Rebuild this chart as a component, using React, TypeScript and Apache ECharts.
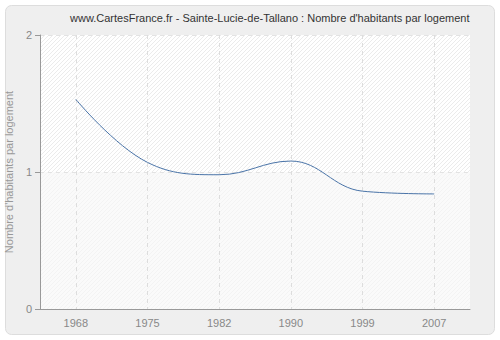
import React, { useEffect, useRef } from "react";
import * as echarts from "echarts";

const years = ["1968", "1975", "1982", "1990", "1999", "2007"];
const values = [1.53, 1.07, 0.98, 1.08, 0.86, 0.84];
const titleText = "www.CartesFrance.fr - Sainte-Lucie-de-Tallano : Nombre d'habitants par logement";
const yAxisName = "Nombre d'habitants par logement";

function hatchImage(bg: string, fg: string): string {
  const c = document.createElement("canvas");
  c.width = 4;
  c.height = 4;
  const ctx = c.getContext("2d")!;
  ctx.fillStyle = bg;
  ctx.fillRect(0, 0, 4, 4);
  ctx.fillStyle = fg;
  for (let i = 0; i < 4; i++) ctx.fillRect(3 - i, i, 1, 1);
  return c.toDataURL();
}

export default function App() {
  const ref = useRef<HTMLDivElement>(null);
  useEffect(() => {
    const chart = echarts.init(ref.current!, null, { renderer: "svg" });
    const font = "'Liberation Sans', Arial, sans-serif";
    const topImg = new Image();
    topImg.src = hatchImage("#ffffff", "#ebebeb");
    const botImg = new Image();
    botImg.src = hatchImage("#fafafa", "#f3f3f3");
    chart.setOption({
      animation: false,
      backgroundColor: "#ffffff",
      graphic: [
        {
          type: "rect",
          z: -10,
          shape: { x: 5.5, y: 5.5, width: 489, height: 329, r: 6 },
          style: { fill: "#efefef", stroke: "#dddddd", lineWidth: 1 },
        },
      ],
      title: {
        text: titleText,
        left: 65,
        top: 7,
        textStyle: { fontFamily: font, fontSize: 11, fontWeight: "normal", color: "#333333" },
      },
      grid: {
        left: 40,
        right: 30,
        top: 35,
        bottom: 31,
        show: true,
        backgroundColor: "#f9f9f9",
        borderWidth: 0,
        outerBoundsMode: "none",
        containLabel: false,
      },
      xAxis: {
        type: "category",
        data: years,
        boundaryGap: true,
        z: 5,
        axisLine: { lineStyle: { color: "#999999" } },
        axisTick: { alignWithLabel: true, length: 5, lineStyle: { color: "#999999" } },
        axisLabel: { color: "#888888", fontFamily: font, fontSize: 11, margin: 8 },
        splitLine: {
          show: true,
          alignWithLabel: true,
          lineStyle: { color: "#dddddd", type: [4, 4] },
        },
      },
      yAxis: {
        type: "value",
        min: 0,
        max: 2,
        interval: 1,
        z: 5,
        name: yAxisName,
        nameLocation: "middle",
        nameGap: 21,
        nameTextStyle: { color: "#999999", fontFamily: font, fontSize: 11 },
        axisLine: { show: true, lineStyle: { color: "#999999" } },
        axisTick: { show: true, length: 5, lineStyle: { color: "#999999" } },
        axisLabel: { color: "#888888", fontFamily: font, fontSize: 11, margin: 8 },
        splitLine: { show: true, lineStyle: { color: "#e3e3e3", type: [4, 4] } },
      },
      series: [
        {
          type: "line",
          data: values,
          smooth: 0.4,
          z: 6,
          showSymbol: false,
          lineStyle: { color: "#4a74a8", width: 1 },
          markArea: {
            silent: true,
            z: 1,
            data: [
              [{ yAxis: 1, itemStyle: { color: { image: topImg, repeat: "repeat" } } }, { yAxis: 2 }],
              [{ yAxis: 0, itemStyle: { color: { image: botImg, repeat: "repeat" } } }, { yAxis: 1 }],
            ],
          },
        },
      ],
    });
    return () => chart.dispose();
  }, []);
  return <div ref={ref} style={{ width: 500, height: 340, position: "absolute", left: 0, top: 0 }} />;
}
